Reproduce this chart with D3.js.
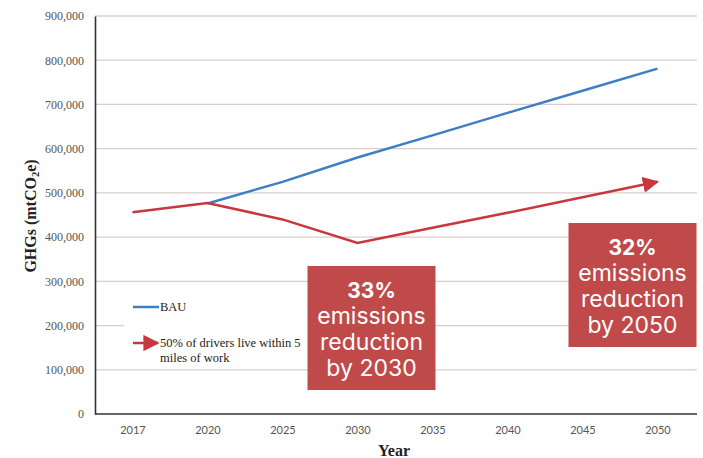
<!DOCTYPE html>
<html lang="en">
<head>
<meta charset="utf-8">
<title>GHG emissions</title>
<script src="https://d3js.org/d3.v7.min.js"></script>
<style>
  body { margin: 0; background: #fff; }
</style>
</head>
<body>
<script>

// chart data
var years = ["2017", "2020", "2025", "2030", "2035", "2040", "2045", "2050"];
var bau = [null, 476000, 525000, 580000, 630000, 681000, 731000, 781000];
var walk = [456000, 477000, 440000, 387000, 421000, 455000, 490000, 525000];
var yTicks = [0, 100000, 200000, 300000, 400000, 500000, 600000, 700000, 800000, 900000];
var notes = [
  { year: "2030", lines: ["33%", "emissions", "reduction", "by 2030"] },
  { year: "2050", lines: ["32%", "emissions", "reduction", "by 2050"] }
];

var w = 703;
var h = 458;
var mLeft = 95, mRight = 697, mTop = 16, mBottom = 414;

var blue = "#3d7ec7";
var red = "#c8373e";
var boxRed = "#c04a4a";

var xScale = d3.scalePoint()
  .domain(years)
  .range([mLeft, mRight - 2])
  .padding(0.5);

var yScale = d3.scaleLinear()
  .domain([0, 900000])
  .range([mBottom, mTop]);

var svg = d3.select("body")
  .append("svg")
  .attr("width", w)
  .attr("height", h);

var defs = svg.append("defs");
defs.append("marker")
  .attr("id", "arrow")
  .attr("viewBox", "0 0 10 10")
  .attr("refX", 9)
  .attr("refY", 5)
  .attr("markerWidth", 6.5)
  .attr("markerHeight", 6.5)
  .attr("markerUnits", "strokeWidth")
  .attr("orient", "auto")
  .append("path")
  .attr("d", "M0,0 L10,5 L0,10 z")
  .attr("fill", red);

// gridlines
svg.append("g")
  .selectAll("line")
  .data(yTicks.slice(1))
  .enter()
  .append("line")
  .attr("x1", mLeft)
  .attr("x2", mRight)
  .attr("y1", d => yScale(d))
  .attr("y2", d => yScale(d))
  .attr("stroke", "#d8cfcc")
  .attr("stroke-width", 1.3);

// y axis
var yAxis = d3.axisLeft(yScale)
  .tickValues(yTicks)
  .tickSize(0)
  .tickPadding(11)
  .tickFormat(d3.format(","));

svg.append("g")
  .attr("transform", "translate(" + mLeft + ",0)")
  .call(yAxis)
  .call(g => g.select(".domain").attr("stroke", "#333").attr("stroke-width", 1.6))
  .selectAll("text")
  .attr("font-family", "Liberation Serif, serif")
  .attr("font-size", 12)
  .attr("fill", "#555");

// x axis
var xAxis = d3.axisBottom(xScale)
  .tickSize(0)
  .tickPadding(12);

svg.append("g")
  .attr("transform", "translate(0," + mBottom + ")")
  .call(xAxis)
  .call(g => g.select(".domain").attr("d", "M" + mLeft + ",0H" + mRight).attr("stroke", "#333").attr("stroke-width", 1.6))
  .selectAll("text")
  .attr("font-family", "Lato, sans-serif")
  .attr("font-size", 11)
  .attr("fill", "#555");

// axis titles
var yTitle = svg.append("text")
  .attr("transform", "translate(36,216) rotate(-90)")
  .attr("text-anchor", "middle")
  .attr("font-family", "Liberation Serif, serif")
  .attr("font-weight", "bold")
  .attr("font-size", 16)
  .attr("fill", "#222");
yTitle.append("tspan").text("GHGs (mtCO");
yTitle.append("tspan").attr("font-size", 10.5).attr("dy", 3).text("2");
yTitle.append("tspan").attr("dy", -3).text("e)");

svg.append("text")
  .attr("x", 394)
  .attr("y", 456)
  .attr("text-anchor", "middle")
  .attr("font-family", "Liberation Serif, serif")
  .attr("font-weight", "bold")
  .attr("font-size", 16)
  .attr("fill", "#222")
  .text("Year");

// lines
var line = d3.line()
  .defined(d => d.v != null)
  .x(d => xScale(d.year))
  .y(d => yScale(d.v));

svg.append("path")
  .datum(years.map((y, i) => ({ year: y, v: bau[i] })))
  .attr("d", line)
  .attr("fill", "none")
  .attr("stroke", blue)
  .attr("stroke-width", 2.5);

svg.append("path")
  .datum(years.map((y, i) => ({ year: y, v: walk[i] })))
  .attr("d", line)
  .attr("fill", "none")
  .attr("stroke", red)
  .attr("stroke-width", 2.5)
  .attr("marker-end", "url(#arrow)");

// legend
var legend = svg.append("g")
  .attr("font-family", "Liberation Serif, serif")
  .attr("font-size", 12.5)
  .attr("fill", "#222");
legend.append("rect")
  .attr("x", 124)
  .attr("y", 290)
  .attr("width", 186)
  .attr("height", 74)
  .attr("fill", "#fff");
legend.append("line")
  .attr("x1", 133).attr("x2", 159)
  .attr("y1", 307).attr("y2", 307)
  .attr("stroke", blue)
  .attr("stroke-width", 2.5);
legend.append("text")
  .attr("x", 160).attr("y", 311)
  .text("BAU");
legend.append("line")
  .attr("x1", 133).attr("x2", 158)
  .attr("y1", 343).attr("y2", 343)
  .attr("stroke", red)
  .attr("stroke-width", 2.5)
  .attr("marker-end", "url(#arrow)");
legend.append("text")
  .attr("x", 160).attr("y", 347)
  .text("50% of drivers live within 5");
legend.append("text")
  .attr("x", 160).attr("y", 362)
  .text("miles of work");

// annotation boxes, placed relative to their year
var boxPos = { "2030": { dx: 14, top: 266 }, "2050": { dx: -25, top: 223 } };
var note = svg.selectAll("g.note")
  .data(notes)
  .enter()
  .append("g")
  .attr("class", "note")
  .attr("transform", d => "translate(" + (xScale(d.year) + boxPos[d.year].dx) + "," + boxPos[d.year].top + ")");

note.append("rect")
  .attr("x", -64)
  .attr("y", 0)
  .attr("width", 128)
  .attr("height", 124)
  .attr("fill", boxRed);

note.selectAll("text")
  .data(d => d.lines)
  .enter()
  .append("text")
  .attr("x", 0)
  .attr("y", (d, i) => 24 + i * 26)
  .attr("dominant-baseline", "central")
  .attr("text-anchor", "middle")
  .attr("font-family", "Inter, sans-serif")
  .attr("font-weight", (d, i) => i == 0 ? "bold" : "normal")
  .attr("font-size", (d, i) => i == 0 ? 21 : 23)
  .attr("fill", "#fff")
  .text(d => d);

</script>
</body>
</html>
